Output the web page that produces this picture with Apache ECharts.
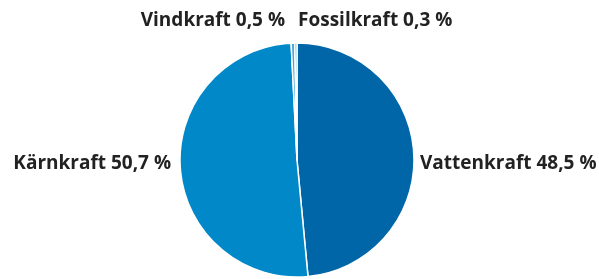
<!DOCTYPE html>
<html>
<head>
<meta charset="utf-8">
<script src="https://cdn.jsdelivr.net/npm/echarts@6/dist/echarts.min.js"></script>
<style>
  html, body { margin: 0; padding: 0; background: #fff; }
  #chart { width: 599px; height: 279px; }
</style>
</head>
<body>
<div id="chart"></div>
<script>
var names = ['Vattenkraft', 'Kärnkraft', 'Vindkraft', 'Fossilkraft'];
var shares = [48.5, 50.7, 0.5, 0.3];
var colors = ['#0066a7', '#0088c9', '#4aa6d8', '#4aa6d8'];

// where each label sits (px), tuned by eye
var labelPos = {
    'Vattenkraft': { x: 420, y: 164, align: 'left' },
    'Kärnkraft': { x: 171, y: 164, align: 'right' },
    'Vindkraft': { x: 285, y: 21, align: 'right' },
    'Fossilkraft': { x: 298, y: 21, align: 'left' }
};

var data = names.map(function (n, i) {
    return { name: n, value: shares[i], itemStyle: { color: colors[i] } };
});

var option = {
    animation: false,
    series: [
        {
            type: 'pie',
            center: [297, 160],
            radius: 117,
            startAngle: 90,
            clockwise: true,
            avoidLabelOverlap: false,
            itemStyle: { borderColor: '#fff', borderWidth: 1.5 },
            label: {
                show: true,
                position: 'outside',
                formatter: function (p) {
                    return p.name + ' ' + String(p.value).replace('.', ',') + ' %';
                },
                fontFamily: 'Open Sans',
                fontWeight: 'bold',
                fontSize: 19,
                color: '#222'
            },
            labelLine: { show: false },
            labelLayout: function (params) {
                var pos = labelPos[names[params.dataIndex]];
                return { x: pos.x, y: pos.y, align: pos.align, verticalAlign: 'middle' };
            },
            data: data
        }
    ]
};

var myChart = echarts.init(document.getElementById('chart'));
myChart.setOption(option);
</script>
</body>
</html>
